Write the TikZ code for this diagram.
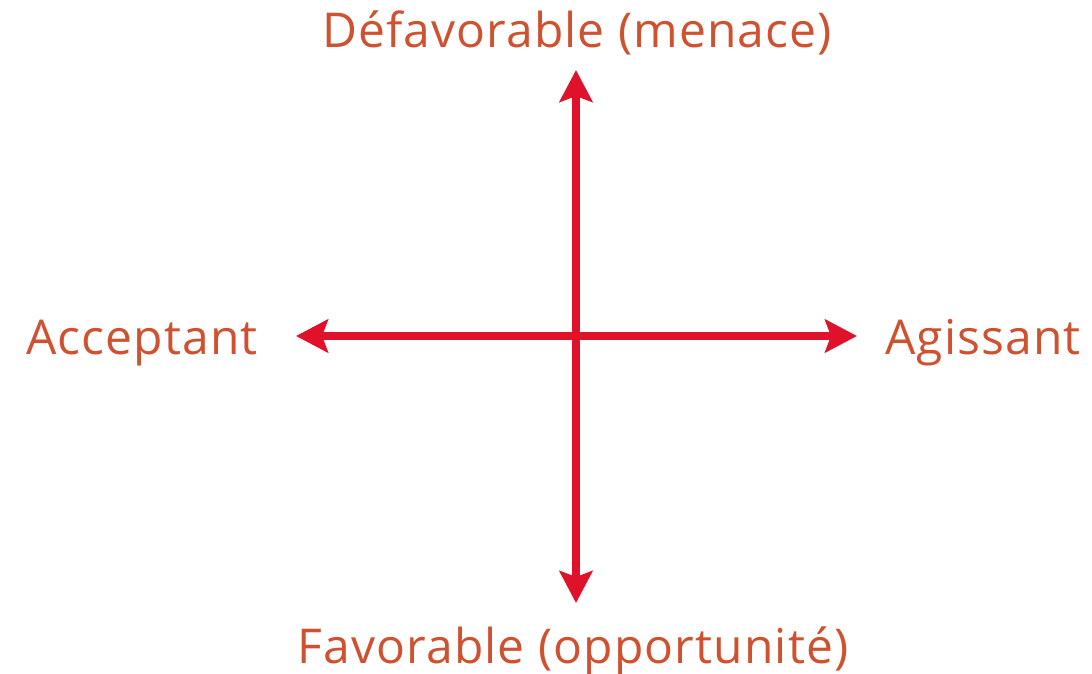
\documentclass[tikz,border=0pt]{standalone}
\usepackage{fontspec}
\setmainfont{Open Sans}[LetterSpace=2.3]
\usetikzlibrary{arrows.meta}
\definecolor{txt}{HTML}{CF5230}
\definecolor{arr}{HTML}{E0112B}
\begin{document}
\begin{tikzpicture}[x=1pt,y=-1pt,
  lbl/.style={text=txt,font=\fontsize{48}{56}\selectfont,inner sep=0pt,anchor=base},
  axis/.style={draw=arr,line width=8.5pt,{Stealth[length=32pt,width=33pt,inset=6pt]}-{Stealth[length=32pt,width=33pt,inset=6pt]}}]
\useasboundingbox (0,0) rectangle (1092,673);
\coordinate (T) at (576,70);
\coordinate (B) at (576,603);
\coordinate (L) at (296,336);
\coordinate (R) at (857,336);
\draw[axis] (T) -- (B);
\draw[axis] (L) -- (R);
\node[lbl] (top) at (577,47) {Défavorable (menace)};
\node[lbl] (bot) at (573,663) {Favorable (opportunité)};
\node[lbl] (left) at (142,354) {Acceptant};
\node[lbl] (right) at (983,354) {Agissant};
\end{tikzpicture}
\end{document}
